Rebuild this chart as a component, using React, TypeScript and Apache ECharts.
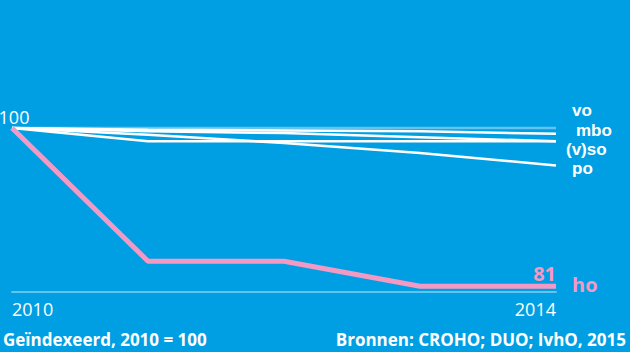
import React, { useEffect, useRef } from "react";
import * as echarts from "echarts";

const years = ["2010", "2011", "2012", "2013", "2014"];
const baseline = [100, 100, 100, 100, 100];
const vo = [100, 99.8, 99.7, 99.6, 99.3];
const mbo = [100, 99.6, 99.4, 98.9, 98.4];
const vso = [100, 98.4, 98.4, 98.4, 98.4];
const po = [100, 99.2, 98.2, 97.0, 95.5];
const ho = [100, 84, 84, 81, 81];

const BG = "#009FE3";
const PINK = "#F39AC4";
const LIGHT = "#62C4EF";
const FONT = "'Open Sans', 'Noto Sans', sans-serif";
const LABEL_FONT = "'Liberation Sans', Arial, sans-serif";

export default function App() {
  const ref = useRef<HTMLDivElement>(null);
  useEffect(() => {
    if (!ref.current) return;
    const chart = echarts.init(ref.current, undefined, { renderer: "svg" });

    const whiteSeries = (name: string, data: number[], dx: number, dy: number) => ({
      name,
      type: "line",
      data,
      symbol: "none",
      clip: false,
      silent: true,
      lineStyle: { color: "#ffffff", width: 2.5 },
      endLabel: {
        show: true,
        formatter: name,
        color: "#ffffff",
        fontFamily: LABEL_FONT,
        fontWeight: "bold",
        fontSize: 17,
        lineHeight: 17,
        distance: 5,
        offset: [dx, dy],
      },
    });

    const last = ho.length - 1;
    chart.setOption({
      animation: false,
      backgroundColor: BG,
      title: [
        {
          text: "Geïndexeerd, 2010 = 100",
          left: 3,
          top: 331,
          padding: 0,
          textStyle: { color: "#ffffff", fontFamily: FONT, fontWeight: "bold", fontSize: 17 },
        },
        {
          text: "Bronnen: CROHO; DUO; IvhO, 2015",
          right: 4,
          top: 331,
          padding: 0,
          textStyle: { color: "#ffffff", fontFamily: FONT, fontWeight: "bold", fontSize: 17 },
        },
      ],
      grid: { left: 12, right: 74, top: 128, height: 164, containLabel: false },
      xAxis: {
        type: "category",
        data: years,
        boundaryGap: false,
        axisLine: { show: true, lineStyle: { color: LIGHT, width: 2 } },
        axisTick: { show: false },
        splitLine: { show: false },
        axisLabel: {
          color: "#ffffff",
          fontFamily: FONT,
          fontSize: 18,
          margin: 8,
          interval: (i: number) => i === 0 || i === years.length - 1,
          alignMinLabel: "left",
          alignMaxLabel: "right",
        },
      },
      yAxis: {
        type: "value",
        min: 80.3,
        max: 100,
        show: false,
        splitLine: { show: false },
      },
      series: [
        {
          name: "100",
          type: "line",
          data: baseline.map((v, i) =>
            i === 0
              ? {
                  value: v,
                  label: {
                    show: true,
                    position: "top",
                    formatter: "100",
                    color: "#ffffff",
                    fontFamily: FONT,
                    fontSize: 18,
                    distance: 2,
                    offset: [2, 0],
                  },
                }
              : v
          ),
          symbol: "circle",
          symbolSize: 0,
          showSymbol: true,
          clip: false,
          silent: true,
          lineStyle: { color: LIGHT, width: 2.5 },
        },
        whiteSeries("vo", vo, 11, -23.3),
        whiteSeries("mbo", mbo, 15, -11.3),
        whiteSeries("(v)so", vso, 5, 7.7),
        whiteSeries("po", po, 11, 3),
        {
          name: "ho",
          type: "line",
          data: ho.map((v, i) =>
            i === last
              ? {
                  value: v,
                  label: {
                    show: true,
                    position: "top",
                    align: "right",
                    formatter: String(v),
                    color: PINK,
                    fontFamily: FONT,
                    fontWeight: "bold",
                    fontSize: 20,
                    distance: 3,
                  },
                }
              : v
          ),
          symbol: "circle",
          symbolSize: 0,
          showSymbol: true,
          clip: false,
          silent: true,
          lineStyle: { color: PINK, width: 5 },
          endLabel: {
            show: true,
            formatter: "ho",
            color: PINK,
            fontFamily: FONT,
            fontWeight: "bold",
            fontSize: 20,
            distance: 5,
            offset: [11, -2],
          },
        },
      ],
    });
    return () => chart.dispose();
  }, []);
  return (
    <div
      ref={ref}
      style={{ position: "fixed", left: 0, top: 0, width: 630, height: 352, background: BG }}
    />
  );
}
